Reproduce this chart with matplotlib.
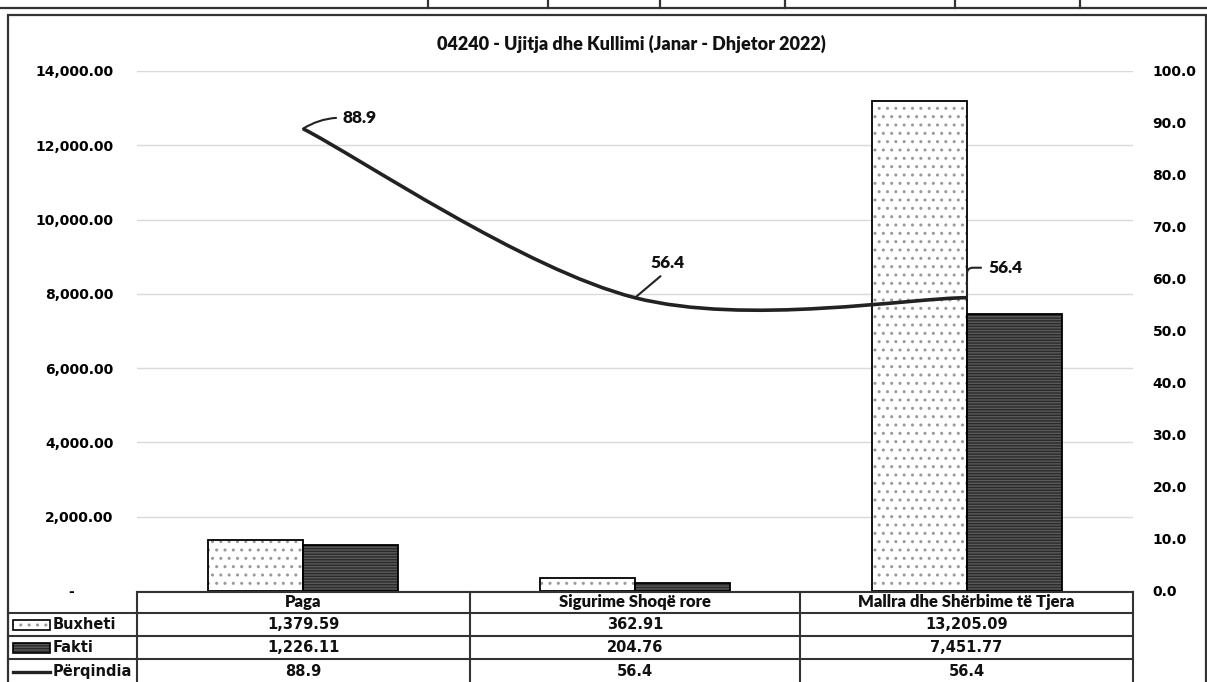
import matplotlib
matplotlib.use("Agg")
import matplotlib.pyplot as plt
from matplotlib.patches import Rectangle
from matplotlib.lines import Line2D
from matplotlib.path import Path
from matplotlib.patches import PathPatch

# data
categories = ["Paga", "Sigurime Shoqë rore", "Mallra dhe Shërbime të Tjera"]
buxheti = [1379.59, 362.91, 13205.09]
fakti = [1226.11, 204.76, 7451.77]
perqindja = [88.9, 56.4, 56.4]
buxheti_txt = ["1,379.59", "362.91", "13,205.09"]
fakti_txt = ["1,226.11", "204.76", "7,451.77"]
perq_txt = ["88.9", "56.4", "56.4"]
left_ticks = [0, 2000, 4000, 6000, 8000, 10000, 12000, 14000]
right_ticks = [0, 10, 20, 30, 40, 50, 60, 70, 80, 90, 100]
title = "04240 - Ujitja dhe Kullimi (Janar - Dhjetor 2022)"

W, H = 1207, 682
fig = plt.figure(figsize=(W / 100, H / 100), dpi=100)

def fx(x):
    return x / W

def fy(y):
    return 1 - y / H

# plot area in pixel coords
x0, x1, ytop, ybot = 137, 1133, 71, 591
ax = fig.add_axes([fx(x0), fy(ybot), fx(x1) - fx(x0), fy(ytop) - fy(ybot)])
ax2 = ax.twinx()

for a in (ax, ax2):
    for s in a.spines.values():
        s.set_visible(False)
    a.tick_params(length=0)
    a.set_xticks([])

ax.set_xlim(-0.5, 2.5)
ax.set_ylim(0, 14000)
ax2.set_ylim(0, 100)
ax.set_yticks(left_ticks)
ax.set_yticklabels(["-" + "\u2007" * 4 if v == 0 else "{:,.2f}".format(v) for v in left_ticks],
                   fontfamily="DejaVu Sans", fontweight="bold", fontsize=10)
ax.tick_params(axis="y", pad=17)
ax2.set_yticks(right_ticks)
ax2.set_yticklabels(["{:.1f}".format(v) for v in right_ticks],
                    fontfamily="DejaVu Sans", fontweight="bold", fontsize=10)
ax2.tick_params(axis="y", pad=14)
ax.grid(axis="y", color="#d9d9d9", lw=1)
ax.set_axisbelow(True)

bw = 0.287
xs = list(range(len(categories)))
xb = [x - bw / 2 for x in xs]
xf = [x + bw / 2 for x in xs]

# budget bars: dotted pattern + black outline
ax.bar(xb, buxheti, bw, color="white", edgecolor="#999999", hatch="..", lw=0, zorder=2)
ax.bar(xb, buxheti, bw, color="none", edgecolor="black", lw=1.3, zorder=3)
# fact bars: dark horizontal stripes
ax.bar(xf, fakti, bw, color="#5a5a5a", edgecolor="#2a2a2a", hatch="------", lw=0, zorder=2)
ax.bar(xf, fakti, bw, color="none", edgecolor="black", lw=1.3, zorder=3)

# smoothed line (Bezier through the points, Excel style)
pts = list(zip(xs, perqindja))
verts = [pts[0]]
codes = [Path.MOVETO]
for i in range(len(pts) - 1):
    p_prev = pts[i - 1] if i > 0 else pts[i]
    p0, p1 = pts[i], pts[i + 1]
    p_next = pts[i + 2] if i + 2 < len(pts) else pts[i + 1]
    c1 = (p0[0] + (p1[0] - p_prev[0]) / 6, p0[1] + (p1[1] - p_prev[1]) / 6)
    c2 = (p1[0] - (p_next[0] - p0[0]) / 6, p1[1] - (p_next[1] - p0[1]) / 6)
    verts += [c1, c2, p1]
    codes += [Path.CURVE4] * 3
ax2.add_patch(PathPatch(Path(verts, codes), fill=False, edgecolor="#222222", lw=2.6, zorder=4))

lab_off = [(40, 11), (32, 27), (21, 30)]
lab_ha = ["left", "center", "left"]
lab_rel = [(0, 0.5), (0.5, 0), (0, 0.5)]
lab_cs = ["arc3,rad=0.15", "arc3,rad=0", "angle,angleA=0,angleB=90,rad=6"]
for i in range(len(pts)):
    ax2.annotate(perq_txt[i], xy=pts[i], xytext=lab_off[i], textcoords="offset pixels",
                 ha=lab_ha[i], va="center" if lab_ha[i] == "left" else "bottom",
                 fontfamily="Lato", fontweight="heavy", fontsize=12.5, color="#111111",
                 arrowprops=dict(arrowstyle="-", color="#222222", lw=1.5,
                                 relpos=lab_rel[i], connectionstyle=lab_cs[i],
                                 shrinkA=3, shrinkB=0))

# title
fig.text(fx(631), fy(44), title, ha="center", va="center",
         fontfamily="Lato", fontweight="heavy", fontsize=13, color="#111111")

# chart frame and top strip from page
fig.add_artist(Rectangle((fx(8), fy(700)), fx(1206) - fx(8), fy(15) - fy(700),
                         transform=fig.transFigure, fill=False, edgecolor="#333333", lw=1.6))
fig.add_artist(Line2D([0, 1], [fy(8), fy(8)], transform=fig.transFigure, color="#333333", lw=1.6))
for xv in [428, 548, 660, 785, 955, 1080]:
    fig.add_artist(Line2D([fx(xv), fx(xv)], [fy(0), fy(8)], transform=fig.transFigure,
                          color="#333333", lw=1.6))

# data table below the plot
rows = [592, 613, 636, 659, 684]
cols = [137, 470, 800, 1133]
lc = "#333333"
fig.add_artist(Line2D([fx(cols[0]), fx(cols[-1])], [fy(rows[0])] * 2, transform=fig.transFigure, color=lc, lw=1.5))
for r in rows[1:]:
    fig.add_artist(Line2D([fx(8), fx(cols[-1])], [fy(r)] * 2, transform=fig.transFigure, color=lc, lw=1.5))
for c in cols:
    fig.add_artist(Line2D([fx(c)] * 2, [fy(rows[0]), fy(rows[-1])], transform=fig.transFigure, color=lc, lw=1.5))

row_vals = [categories, buxheti_txt, fakti_txt, perq_txt]
for r, vals in enumerate(row_vals):
    yc = (rows[r] + rows[r + 1]) / 2
    for c, v in enumerate(vals):
        xc = (cols[c] + cols[c + 1]) / 2
        fig.text(fx(xc), fy(yc), v, fontfamily="Lato" if r == 0 else "DejaVu Sans",
                 fontweight="heavy" if r == 0 else "bold", fontsize=12 if r == 0 else 10.5,
                 color="#111111", ha="center", va="center")

# legend keys in the table
series = ["Buxheti", "Fakti", "Përqindia"]
for r, name in enumerate(series):
    yc = (rows[r + 1] + rows[r + 2]) / 2
    fig.text(fx(53), fy(yc), name, fontfamily="DejaVu Sans", fontweight="bold", fontsize=10.5,
             color="#111111", ha="left", va="center")
yk = (rows[1] + rows[2]) / 2
fig.add_artist(Rectangle((fx(13), fy(yk + 5)), fx(50) - fx(13), fy(yk - 5) - fy(yk + 5),
                         transform=fig.transFigure, facecolor="white", edgecolor="#999999",
                         hatch="..", lw=0))
fig.add_artist(Rectangle((fx(13), fy(yk + 5)), fx(50) - fx(13), fy(yk - 5) - fy(yk + 5),
                         transform=fig.transFigure, fill=False, edgecolor="black", lw=1.2))
yk = (rows[2] + rows[3]) / 2
fig.add_artist(Rectangle((fx(13), fy(yk + 5)), fx(50) - fx(13), fy(yk - 5) - fy(yk + 5),
                         transform=fig.transFigure, facecolor="#5a5a5a", edgecolor="#2a2a2a",
                         hatch="------", lw=0))
fig.add_artist(Rectangle((fx(13), fy(yk + 5)), fx(50) - fx(13), fy(yk - 5) - fy(yk + 5),
                         transform=fig.transFigure, fill=False, edgecolor="black", lw=1.2))
yk = (rows[3] + rows[4]) / 2
fig.add_artist(Line2D([fx(13), fx(50)], [fy(yk)] * 2, transform=fig.transFigure, color="#222222", lw=2.4))

fig.savefig("out.png", dpi=100)
